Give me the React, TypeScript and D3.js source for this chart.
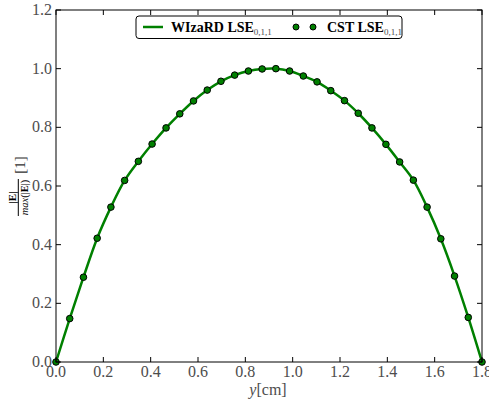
import React from "react";
import * as d3 from "d3";

const yPositions: number[] = [
  0.0, 0.058, 0.116, 0.174, 0.232, 0.29, 0.348, 0.406, 0.465, 0.523, 0.581,
  0.639, 0.697, 0.755, 0.813, 0.871, 0.929, 0.987, 1.045, 1.103, 1.161, 1.219,
  1.277, 1.335, 1.394, 1.452, 1.51, 1.568, 1.626, 1.684, 1.742, 1.8,
];
const cstValues: number[] = [
  0.0, 0.148, 0.289, 0.422, 0.528, 0.619, 0.684, 0.743, 0.798, 0.846, 0.89,
  0.927, 0.957, 0.978, 0.992, 0.999, 1.0, 0.992, 0.975, 0.955, 0.925, 0.891,
  0.848, 0.798, 0.742, 0.682, 0.62, 0.528, 0.42, 0.293, 0.152, 0.0,
];
const wizardValues: number[] = cstValues.slice();
const xTicks: number[] = [0, 0.2, 0.4, 0.6, 0.8, 1.0, 1.2, 1.4, 1.6, 1.8];
const yTicks: number[] = [0, 0.2, 0.4, 0.6, 0.8, 1.0, 1.2];

const W = 489;
const H = 403;
const L = 56, R = 482, T = 10, B = 362;
const GREEN = "#008000";
const SERIF = "Liberation Serif, Times New Roman, DejaVu Serif, serif";
const GRAY = "#4d4d4d";

export default function App() {
  const x = d3.scaleLinear().domain([0, 1.8]).range([L, R]);
  const y = d3.scaleLinear().domain([0, 1.2]).range([B, T]);
  const line = d3
    .line<number>()
    .x((_, i) => x(yPositions[i]))
    .y((d) => y(d))
    .curve(d3.curveCatmullRom.alpha(0.5));
  const tl = 5;
  return (
    <svg
      width={W}
      height={H}
      style={{ position: "absolute", left: 0, top: 0, background: "#fff", fontFamily: SERIF }}
    >
      <rect x={0} y={0} width={W} height={H} fill="#fff" />
      <defs>
        <clipPath id="clip">
          <rect x={L - 6} y={T} width={R - L + 12} height={B - T + 6} />
        </clipPath>
      </defs>
      <g clipPath="url(#clip)">
        <path d={line(wizardValues) || ""} fill="none" stroke={GREEN} strokeWidth={2.5} />
        {cstValues.map((v, i) => (
          <circle
            key={i}
            cx={x(yPositions[i])}
            cy={y(v)}
            r={3.3}
            fill={GREEN}
            stroke="#000"
            strokeWidth={1}
          />
        ))}
      </g>
      <rect x={L} y={T} width={R - L} height={B - T} fill="none" stroke="#000" strokeWidth={1} />
      {xTicks.map((t) => (
        <g key={"x" + t}>
          <line x1={x(t)} x2={x(t)} y1={B} y2={B - tl} stroke="#000" />
          <line x1={x(t)} x2={x(t)} y1={T} y2={T + tl} stroke="#000" />
          <text
            x={x(t)}
            y={B + 15}
            textAnchor="middle"
            fontSize={16}
            fill={GRAY}
          >
            {t.toFixed(1)}
          </text>
        </g>
      ))}
      {yTicks.map((t) => (
        <g key={"y" + t}>
          <line x1={L} x2={L + tl} y1={y(t)} y2={y(t)} stroke="#000" />
          <line x1={R} x2={R - tl} y1={y(t)} y2={y(t)} stroke="#000" />
          <text
            x={L - 4}
            y={y(t) + 5}
            textAnchor="end"
            fontSize={16}
            fill={GRAY}
          >
            {t.toFixed(1)}
          </text>
        </g>
      ))}
      {/* x label */}
      <text x={268} y={395} textAnchor="middle" fontSize={16} fill={GRAY}>
        <tspan fontStyle="italic">y</tspan>
        <tspan>[cm]</tspan>
      </text>
      {/* y label */}
      <g transform="translate(22,187) rotate(-90)">
        <text x={-10.5} y={-6} textAnchor="middle" fontSize={11} fontWeight="bold" fill="#000">
          |E|
        </text>
        <line x1={-29} x2={8} y1={-3.7} y2={-3.7} stroke="#000" strokeWidth={1} />
        <text x={-10.5} y={5.5} textAnchor="middle" fontSize={10.5} fill="#000">
          <tspan fontStyle="italic">max</tspan>
          <tspan>(|</tspan>
          <tspan fontWeight="bold">E</tspan>
          <tspan>|)</tspan>
        </text>
        <text x={22} y={3} textAnchor="middle" fontSize={15} fill="#333">
          [1]
        </text>
      </g>
      {/* legend */}
      <rect x={136} y={16} width={266} height={22.5} rx={3} fill="#fff" stroke="#000" strokeWidth={1} />
      <line x1={143} x2={163} y1={27} y2={27} stroke={GREEN} strokeWidth={2.5} />
      <text x={171} y={32} fontSize={14} fill="#000">
        <tspan fontWeight="bold">WIzaRD LSE</tspan>
        <tspan fontSize={9} dy={3} fill={GRAY}>0,1,1</tspan>
      </text>
      <circle cx={296} cy={27} r={3} fill={GREEN} stroke="#000" strokeWidth={1} />
      <circle cx={313} cy={27} r={3} fill={GREEN} stroke="#000" strokeWidth={1} />
      <text x={327} y={32} fontSize={14} fill="#000">
        <tspan fontWeight="bold">CST LSE</tspan>
        <tspan fontSize={9} dy={3} fill={GRAY}>0,1,1</tspan>
      </text>
    </svg>
  );
}
